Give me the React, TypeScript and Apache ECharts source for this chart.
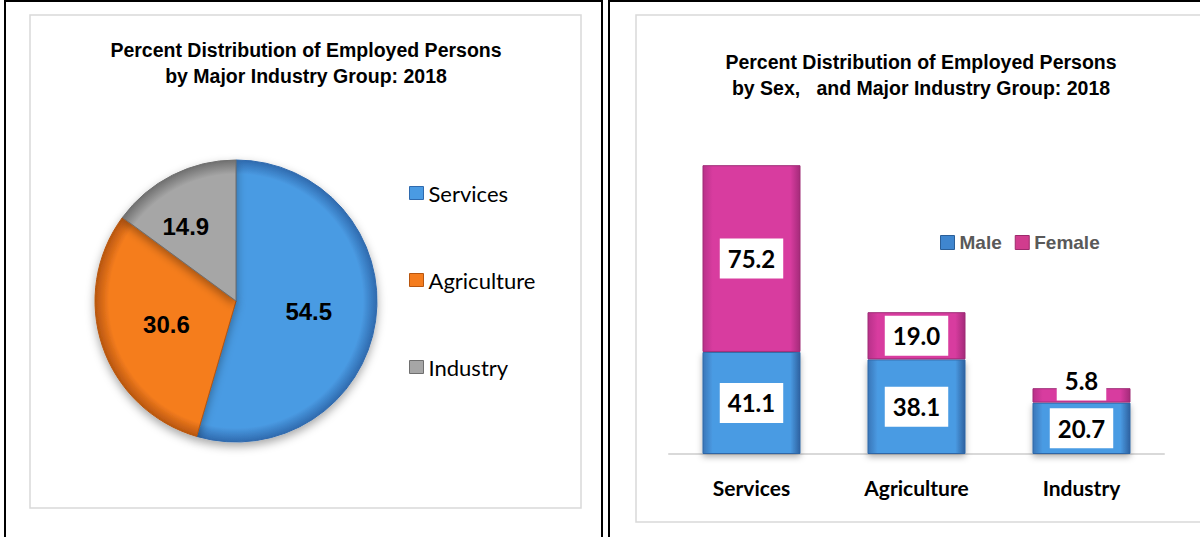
import React, { useEffect, useRef } from "react";
import * as echarts from "echarts";

const pieCategories = ["Services", "Agriculture", "Industry"];
const pieValues = [54.5, 30.6, 14.9];

const barCategories = ["Services", "Agriculture", "Industry"];
const maleValues = [41.1, 38.1, 20.7];
const femaleValues = [75.2, 19.0, 5.8];

const pieMain = ["#4A9BE3", "#F57D1E", "#A6A6A6"];
const pieDark = ["#2F6AAE", "#B8560F", "#6F6F6F"];

const ARIAL = "'Liberation Sans', Arial, sans-serif";
const CAL = "Lato, 'Open Sans', sans-serif";

export default function App() {
  const ref = useRef<HTMLDivElement>(null);
  useEffect(() => {
    if (!ref.current) return;
    const chart = echarts.init(ref.current, null, { renderer: "svg" });

    const pieCx = 236;
    const pieCy = 301;
    const pieR = 141;

    const pieData = pieCategories.map((name, i) => ({
      name,
      value: pieValues[i],
      itemStyle: {
        color: {
          type: "radial",
          x: pieCx,
          y: pieCy,
          r: pieR,
          global: true,
          colorStops: [
            { offset: 0, color: pieMain[i] },
            { offset: 0.9, color: pieMain[i] },
            { offset: 1, color: pieDark[i] },
          ],
        },
        borderColor: pieDark[i],
        borderWidth: 1,
      },
      label: i === 2 ? { offset: [-17, -9] } : {},
    }));

    const barGrad = (edge: string, main: string, edge2: string) => ({
      type: "linear",
      x: 0,
      y: 0,
      x2: 1,
      y2: 0,
      colorStops: [
        { offset: 0, color: edge },
        { offset: 0.1, color: main },
        { offset: 0.9, color: main },
        { offset: 1, color: edge2 },
      ],
    });

    const barLabel = {
      show: true,
      position: "inside",
      formatter: (p: any) => Number(p.value).toFixed(1),
      backgroundColor: "#ffffff",
      padding: [8, 8, 8, 8],
      fontFamily: CAL,
      fontWeight: "bold",
      fontSize: 24,
      lineHeight: 24,
      color: "#000",
    };

    chart.setOption({
      animation: false,
      backgroundColor: "#ffffff",
      graphic: [
        {
          type: "rect",
          z: 0,
          shape: { x: 5, y: 1, width: 597, height: 560 },
          style: { fill: "#fff", stroke: "#000", lineWidth: 2 },
        },
        {
          type: "rect",
          z: 0,
          shape: { x: 609, y: 1, width: 600, height: 560 },
          style: { fill: "#fff", stroke: "#000", lineWidth: 2 },
        },
        {
          type: "rect",
          z: 0,
          shape: { x: 30, y: 15, width: 551, height: 493 },
          style: { fill: "#fff", stroke: "#D9D9D9", lineWidth: 1.5 },
        },
        {
          type: "rect",
          z: 0,
          shape: { x: 636, y: 15, width: 580, height: 507 },
          style: { fill: "#fff", stroke: "#D9D9D9", lineWidth: 1.5 },
        },
        {
          type: "text",
          z: 1,
          x: 306,
          y: 37,
          style: {
            text: "Percent Distribution of Employed Persons\nby Major Industry Group: 2018",
            align: "center",
            verticalAlign: "top",
            fontFamily: ARIAL,
            fontWeight: "bold",
            fontSize: 19.5,
            lineHeight: 26,
            fill: "#000",
          },
        },
        {
          type: "text",
          z: 1,
          x: 921,
          y: 49,
          style: {
            text: "Percent Distribution of Employed Persons\nby Sex,   and Major Industry Group: 2018",
            align: "center",
            verticalAlign: "top",
            fontFamily: ARIAL,
            fontWeight: "bold",
            fontSize: 19.5,
            lineHeight: 26,
            fill: "#000",
          },
        },
      ],
      legend: [
        {
          orient: "vertical",
          left: 404,
          top: 177,
          itemWidth: 14,
          itemHeight: 13,
          itemGap: 65,
          icon: "rect",
          selectedMode: false,
          data: pieCategories.map((name, i) => ({
            name,
            itemStyle: { color: pieMain[i], borderColor: pieDark[i], borderWidth: 1 },
          })),
          textStyle: {
            fontFamily: CAL,
            fontSize: 22,
            lineHeight: 22,
            color: "#000",
          },
        },
        {
          orient: "horizontal",
          left: 935,
          top: 228,
          itemWidth: 14,
          itemHeight: 14,
          itemGap: 13,
          icon: "rect",
          selectedMode: false,
          data: [
            { name: "Male", itemStyle: { color: "#3F86CF", borderColor: "#2B5F98", borderWidth: 1 } },
            { name: "Female", itemStyle: { color: "#D13C8E", borderColor: "#9C2A6C", borderWidth: 1 } },
          ],
          textStyle: {
            fontFamily: ARIAL,
            fontWeight: "bold",
            fontSize: 19,
            lineHeight: 19,
            color: "#595959",
          },
        },
      ],
      grid: { left: 669, width: 495, top: 156, height: 298 },
      xAxis: {
        type: "category",
        data: barCategories,
        axisTick: { show: false },
        axisLine: { lineStyle: { color: "#D9D9D9", width: 2 } },
        axisLabel: {
          margin: 21,
          fontFamily: CAL,
          fontWeight: "bold",
          fontSize: 21,
          lineHeight: 24,
          color: "#000",
        },
      },
      yAxis: {
        type: "value",
        min: 0,
        max: 120,
        show: false,
        splitLine: { show: false },
      },
      series: [
        {
          type: "pie",
          z: 3,
          center: [pieCx, pieCy],
          radius: pieR,
          startAngle: 90,
          clockwise: true,
          silent: true,
          data: pieData,
          itemStyle: {
            shadowBlur: 10,
            shadowColor: "rgba(0,0,0,0.35)",
            shadowOffsetY: 4,
          },
          label: {
            show: true,
            position: "inside",
            formatter: (p: any) => Number(p.value).toFixed(1),
            fontFamily: ARIAL,
            fontWeight: "bold",
            fontSize: 24,
            color: "#000",
          },
          labelLine: { show: false },
        },
        {
          name: "Male",
          type: "bar",
          z: 3,
          stack: "total",
          barWidth: 98,
          silent: true,
          data: maleValues,
          itemStyle: {
            color: barGrad("#3A76B8", "#4A9BE3", "#2F62A0"),
            borderColor: "#2E66A6",
            borderWidth: 1,
            shadowBlur: 6,
            shadowColor: "rgba(0,0,0,0.3)",
            shadowOffsetY: 3,
          },
          label: barLabel,
        },
        {
          name: "Female",
          type: "bar",
          z: 3,
          stack: "total",
          barWidth: 98,
          silent: true,
          data: femaleValues.map((v, i) =>
            i === 2 ? { value: v, label: { offset: [0, -15] } } : { value: v }
          ),
          itemStyle: {
            color: barGrad("#B8318A", "#D83C9F", "#A42B7A"),
            borderColor: "#9E2A75",
            borderWidth: 1,
          },
          label: barLabel,
        },
      ],
    });

    return () => chart.dispose();
  }, []);

  return (
    <div
      ref={ref}
      style={{ position: "fixed", left: 0, top: 0, width: 1200, height: 537 }}
    />
  );
}
